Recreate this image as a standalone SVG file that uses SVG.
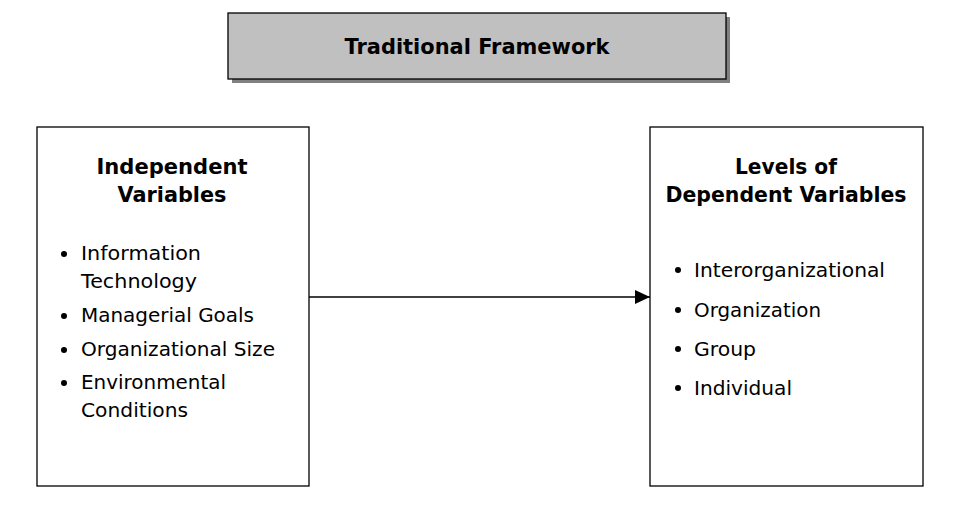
<svg xmlns="http://www.w3.org/2000/svg" width="958" height="512" viewBox="0 0 958 512">
<style>
.box{fill:#fff;stroke:#000;stroke-width:1.3}
.t{font-family:"DejaVu Sans","Liberation Sans",sans-serif;font-size:20px;fill:#000}
.b{font-weight:bold;text-anchor:middle;font-size:21px}
.dot{fill:#000}
</style>
<defs>
<marker id="ah" markerWidth="16" markerHeight="14" refX="15" refY="7" orient="auto" markerUnits="userSpaceOnUse">
<path d="M0,0 L15,7 L0,14 Z" fill="#000"/>
</marker>
</defs>
<rect width="958" height="512" fill="#fff"/>
<g id="title">
<rect x="232" y="17" width="498" height="66" fill="#808080"/>
<rect x="228" y="13" width="498" height="66" fill="#c0c0c0" stroke="#000" stroke-width="1.3"/>
<text class="t b" x="477" y="54" textLength="265" lengthAdjust="spacingAndGlyphs">Traditional Framework</text>
</g>
<g id="independent">
<rect class="box" x="37" y="127" width="272" height="359"/>
<text class="t b" x="172" y="174" textLength="151" lengthAdjust="spacingAndGlyphs">Independent</text>
<text class="t b" x="172" y="202" textLength="109" lengthAdjust="spacingAndGlyphs">Variables</text>
<circle class="dot" cx="64" cy="254" r="3"/>
<text class="t" x="81" y="260" textLength="120" lengthAdjust="spacingAndGlyphs">Information</text>
<text class="t" x="81" y="288" textLength="116" lengthAdjust="spacingAndGlyphs">Technology</text>
<circle class="dot" cx="64" cy="316" r="3"/>
<text class="t" x="81" y="322" textLength="173" lengthAdjust="spacingAndGlyphs">Managerial Goals</text>
<circle class="dot" cx="64" cy="350" r="3"/>
<text class="t" x="81" y="356" textLength="194" lengthAdjust="spacingAndGlyphs">Organizational Size</text>
<circle class="dot" cx="64" cy="383" r="3"/>
<text class="t" x="81" y="389" textLength="145" lengthAdjust="spacingAndGlyphs">Environmental</text>
<text class="t" x="81" y="417" textLength="107" lengthAdjust="spacingAndGlyphs">Conditions</text>
</g>
<g id="dependent">
<rect class="box" x="650" y="127" width="273" height="359"/>
<text class="t b" x="786" y="174" textLength="102" lengthAdjust="spacingAndGlyphs">Levels of</text>
<text class="t b" x="786" y="202" textLength="241" lengthAdjust="spacingAndGlyphs">Dependent Variables</text>
<circle class="dot" cx="678" cy="270" r="3"/>
<text class="t" x="694" y="277" textLength="191" lengthAdjust="spacingAndGlyphs">Interorganizational</text>
<circle class="dot" cx="678" cy="310" r="3"/>
<text class="t" x="694" y="317" textLength="127" lengthAdjust="spacingAndGlyphs">Organization</text>
<circle class="dot" cx="678" cy="349" r="3"/>
<text class="t" x="694" y="356" textLength="62" lengthAdjust="spacingAndGlyphs">Group</text>
<circle class="dot" cx="678" cy="388" r="3"/>
<text class="t" x="694" y="395" textLength="98" lengthAdjust="spacingAndGlyphs">Individual</text>
</g>
<g id="connectors">
<line x1="309" y1="297" x2="650" y2="297" stroke="#000" stroke-width="1.3" marker-end="url(#ah)"/>
</g>
</svg>
